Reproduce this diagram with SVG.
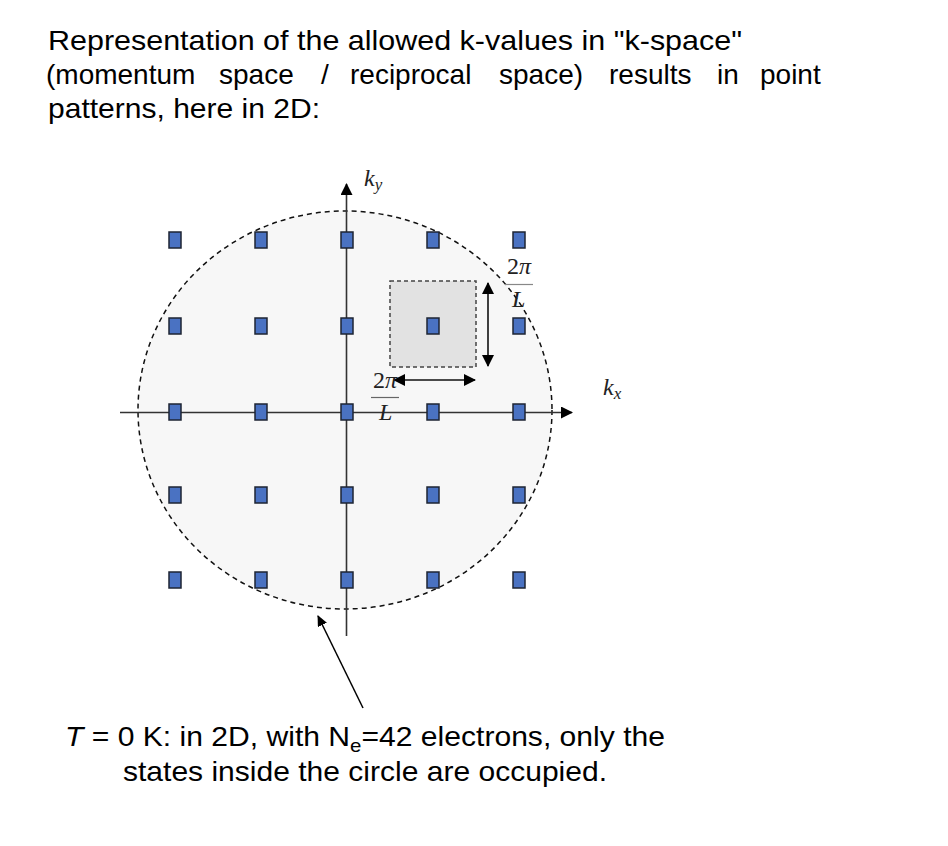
<svg xmlns="http://www.w3.org/2000/svg" width="948" height="846" viewBox="0 0 948 846">
<style>
.body{font-family:"Liberation Sans",Arial,sans-serif;font-size:28px;fill:#000}
.math{font-family:"Liberation Serif","DejaVu Serif",serif;font-style:italic;font-size:24px;fill:#222}
.pt{fill:#4a72c2;stroke:#1e2533;stroke-width:1.5}
.axis{stroke:#333;stroke-width:1.6;fill:none}
.dim{stroke:#111;stroke-width:1.6;fill:none}
</style>
<defs>
<marker id="ah" markerWidth="12" markerHeight="12" refX="11" refY="6" orient="auto-start-reverse" markerUnits="userSpaceOnUse">
<path d="M0,0 L12,6 L0,12 z" fill="#000"/>
</marker>
<marker id="ah2" markerWidth="11" markerHeight="12" refX="10" refY="5" orient="auto" markerUnits="userSpaceOnUse">
<path d="M0,0 L11,5 L0,10 z" fill="#000"/>
</marker>
</defs>
<rect width="948" height="846" fill="#fff"/>

<g id="title">
<text class="body" x="48" y="50" textLength="694" lengthAdjust="spacingAndGlyphs">Representation of the allowed k-values in "k-space"</text>
<text class="body" y="84"><tspan x="46">(momentum</tspan><tspan x="219">space</tspan><tspan x="321">/</tspan><tspan x="350">reciprocal</tspan><tspan x="499">space)</tspan><tspan x="609">results</tspan><tspan x="717">in</tspan><tspan x="760">point</tspan></text>
<text class="body" x="48" y="118" textLength="272" lengthAdjust="spacingAndGlyphs">patterns, here in 2D:</text>
</g>

<g id="fermi-circle">
<ellipse cx="345" cy="410" rx="207" ry="199" fill="#f7f7f7" stroke="#111" stroke-width="1.5" stroke-dasharray="5,4"/>
</g>

<g id="unit-cell">
<rect x="390" y="281" width="86" height="86" fill="#e2e2e2" stroke="#444" stroke-width="1.5" stroke-dasharray="4,3"/>
</g>

<g id="connectors">
<line class="axis" x1="120" y1="412.5" x2="572" y2="412.5" marker-end="url(#ah)"/>
<line class="axis" x1="346.5" y1="636" x2="346.5" y2="184" marker-end="url(#ah)"/>
<line class="dim" x1="488" y1="283" x2="488" y2="366" marker-start="url(#ah)" marker-end="url(#ah)"/>
<line class="dim" x1="394" y1="380" x2="475" y2="380" marker-start="url(#ah)" marker-end="url(#ah)"/>
<line stroke="#000" stroke-width="1.5" x1="363" y1="708" x2="318" y2="616" marker-end="url(#ah2)"/>
</g>

<g id="k-points">
<rect class="pt" x="169" y="232" width="12" height="16"/>
<rect class="pt" x="255" y="232" width="12" height="16"/>
<rect class="pt" x="341" y="232" width="12" height="16"/>
<rect class="pt" x="427" y="232" width="12" height="16"/>
<rect class="pt" x="513" y="232" width="12" height="16"/>
<rect class="pt" x="169" y="318" width="12" height="16"/>
<rect class="pt" x="255" y="318" width="12" height="16"/>
<rect class="pt" x="341" y="318" width="12" height="16"/>
<rect class="pt" x="427" y="318" width="12" height="16"/>
<rect class="pt" x="513" y="318" width="12" height="16"/>
<rect class="pt" x="169" y="404" width="12" height="16"/>
<rect class="pt" x="255" y="404" width="12" height="16"/>
<rect class="pt" x="341" y="404" width="12" height="16"/>
<rect class="pt" x="427" y="404" width="12" height="16"/>
<rect class="pt" x="513" y="404" width="12" height="16"/>
<rect class="pt" x="169" y="487" width="12" height="16"/>
<rect class="pt" x="255" y="487" width="12" height="16"/>
<rect class="pt" x="341" y="487" width="12" height="16"/>
<rect class="pt" x="427" y="487" width="12" height="16"/>
<rect class="pt" x="513" y="487" width="12" height="16"/>
<rect class="pt" x="169" y="572" width="12" height="16"/>
<rect class="pt" x="255" y="572" width="12" height="16"/>
<rect class="pt" x="341" y="572" width="12" height="16"/>
<rect class="pt" x="427" y="572" width="12" height="16"/>
<rect class="pt" x="513" y="572" width="12" height="16"/>
</g>

<g id="labels">
<text class="math" x="364" y="186">k<tspan font-size="17" dy="4">y</tspan></text>
<text class="math" x="603" y="395">k<tspan font-size="17" dy="4">x</tspan></text>
<text class="math" x="373" y="388"><tspan font-style="normal">2</tspan>π</text>
<line x1="371" y1="397.5" x2="399" y2="397.5" stroke="#666" stroke-width="1.2"/>
<text class="math" x="379" y="420">L</text>
<text class="math" x="507" y="274"><tspan font-style="normal">2</tspan>π</text>
<line x1="505" y1="284.5" x2="533" y2="284.5" stroke="#888" stroke-width="1.2"/>
<text class="math" x="512" y="307">L</text>
</g>

<g id="caption">
<text class="body" x="65" y="746" textLength="600" lengthAdjust="spacingAndGlyphs"><tspan font-style="italic">T</tspan> = 0 K: in 2D, with N<tspan font-size="19" dy="6">e</tspan><tspan dy="-6">=42 electrons, only the</tspan></text>
<text class="body" x="123" y="781" textLength="484" lengthAdjust="spacingAndGlyphs">states inside the circle are occupied.</text>
</g>
</svg>
